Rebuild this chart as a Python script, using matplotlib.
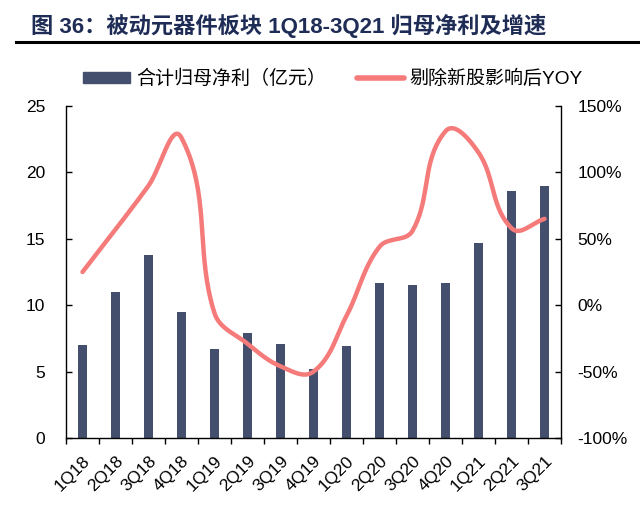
import numpy as np
import matplotlib
matplotlib.use('Agg')
import matplotlib.pyplot as plt
from matplotlib.lines import Line2D

plt.rcParams['font.family'] = ['Liberation Sans', 'Noto Sans CJK SC']
plt.rcParams['axes.unicode_minus'] = False

quarters = ['1Q18', '2Q18', '3Q18', '4Q18', '1Q19', '2Q19', '3Q19', '4Q19',
            '1Q20', '2Q20', '3Q20', '4Q20', '1Q21', '2Q21', '3Q21']
profit = [7.0, 11.0, 13.8, 9.5, 6.7, 7.9, 7.1, 5.2,
          6.9, 11.7, 11.5, 11.65, 14.7, 18.6, 19.0]
yoy = [25, 57, 90, 126, -6, -29, -46, -50,
       -8, 44, 56, 131, 115, 58, 65]

bar_color = '#444f6e'
line_color = '#f57a7a'
title_color = '#1f2d56'


def smooth(xs, ys, yscale, k=0.36, n=40):
    # bezier smoothing with tangents scaled by segment length (excel-like)
    # yscale: how many y units equal one x unit on screen
    p = np.column_stack([np.asarray(xs, float), np.asarray(ys, float) / yscale])
    m = len(p)
    tang = np.zeros_like(p)
    for i in range(m):
        a = p[max(i - 1, 0)]
        b = p[min(i + 1, m - 1)]
        d = b - a
        tang[i] = d / np.linalg.norm(d)
    t = np.linspace(0, 1, n)[:, None]
    out = []
    for i in range(m - 1):
        p0, p3 = p[i], p[i + 1]
        L = np.linalg.norm(p3 - p0)
        c1 = p0 + tang[i] * L * k
        c2 = p3 - tang[i + 1] * L * k
        seg = ((1 - t) ** 3) * p0 + 3 * ((1 - t) ** 2) * t * c1 + 3 * (1 - t) * t ** 2 * c2 + t ** 3 * p3
        out.append(seg)
    out = np.vstack(out)
    return out[:, 0], out[:, 1] * yscale


fig = plt.figure(figsize=(6.4, 5.09), dpi=100)
ax1 = fig.add_axes([66 / 640, 1 - 438 / 509, (561 - 66) / 640, (438 - 106) / 509])
ax2 = ax1.twinx()

x = np.arange(len(quarters))
ax1.bar(x, profit, width=0.3, color=bar_color, zorder=2)
# one category is ~33 px wide, 1% is ~1.33 px tall
sx, sy = smooth(x, yoy, yscale=33 / 1.33)
ax2.plot(sx, sy, color=line_color, linewidth=3.2, solid_capstyle='round', zorder=3)

ax1.set_xlim(-0.5, len(quarters) - 0.5)
ax1.set_ylim(0, 25)
ax1.set_yticks(range(0, 26, 5))
ax2.set_ylim(-100, 150)
ax2.set_yticks(range(-100, 151, 50))
ax2.set_yticklabels(['%d%%' % v for v in range(-100, 151, 50)])

ax1.set_xticks(np.arange(-0.5, len(quarters), 1.0))
ax1.set_xticklabels([])
ax1.set_xticks(x, minor=True)
ax1.set_xticklabels(quarters, minor=True, rotation=45, ha='right', va='top',
                    rotation_mode='anchor', fontsize=12.5)
ax1.tick_params(axis='x', which='major', direction='out', length=4, width=1)
ax1.tick_params(axis='x', which='minor', length=0, pad=11)
ax1.tick_params(axis='y', direction='in', length=4, width=1, labelsize=12.5, pad=15)
ax2.tick_params(axis='y', direction='in', length=4, width=1, labelsize=12.5, pad=12)

for ax in (ax1, ax2):
    ax.spines['top'].set_visible(False)
    for s in ('left', 'right', 'bottom'):
        ax.spines[s].set_linewidth(1)
ax1.spines['right'].set_visible(False)
ax2.spines['left'].set_visible(False)
ax2.spines['bottom'].set_visible(False)

handles = [plt.Rectangle((0, 0), 1, 1, color=bar_color),
           Line2D([0], [0], color=line_color, linewidth=4, solid_capstyle='round')]
fig.legend(handles, ['合计归母净利（亿元）', '剔除新股影响后YOY'], loc='center',
           bbox_to_anchor=(333 / 640, 1 - 79 / 509), ncol=2, frameon=False,
           fontsize=13.7, handlelength=2.5, handleheight=0.5, columnspacing=1.6,
           handletextpad=0.3)

fig.text(31 / 640, 1 - 26 / 509, '图 36：被动元器件板块 1Q18-3Q21 归母净利及增速',
         fontsize=16, fontweight='bold', color=title_color, va='center', ha='left')
fig.add_artist(Line2D([16 / 640, 1.0], [1 - 42 / 509, 1 - 42 / 509], color='black',
                      linewidth=2.2, transform=fig.transFigure))

plt.savefig('out.png', dpi=100)
